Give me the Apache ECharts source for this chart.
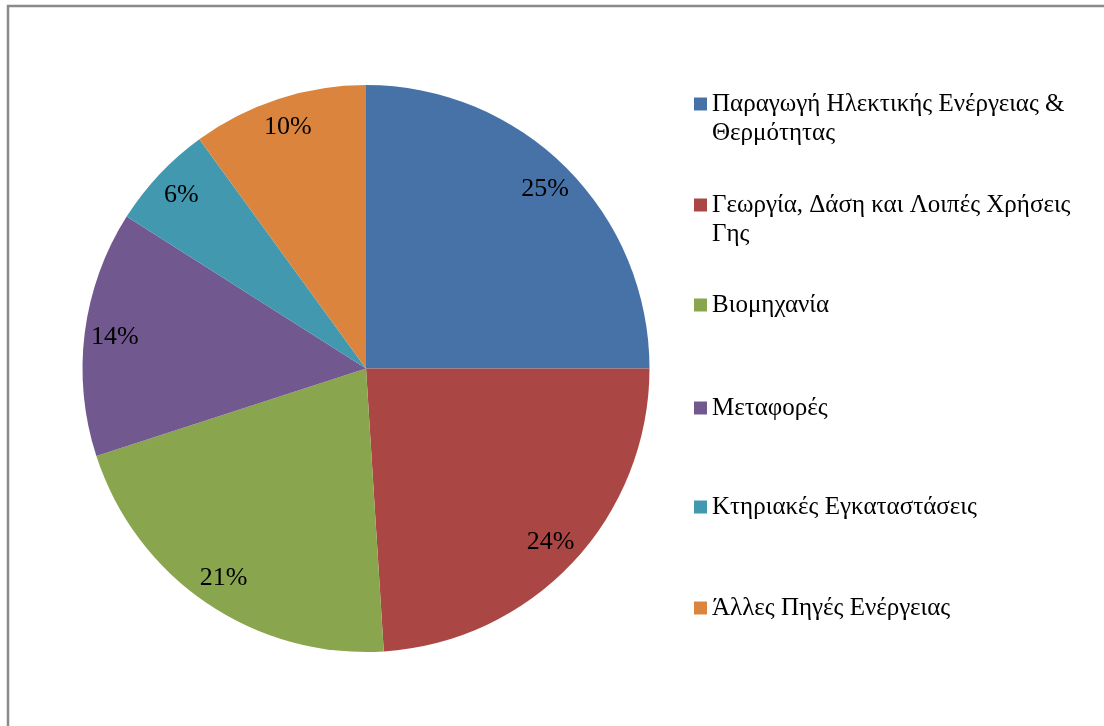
<!DOCTYPE html>
<html>
<head>
<meta charset="utf-8">
<script src="https://cdn.jsdelivr.net/npm/echarts@6/dist/echarts.min.js"></script>
<style>
  html, body { margin: 0; padding: 0; background: #fff; }
  #main { width: 1104px; height: 726px; }
</style>
</head>
<body>
<div id="main"></div>
<script>
// κατηγορίες και ποσοστά
const categories = [
  'Παραγωγή Ηλεκτικής Ενέργειας &\nΘερμότητας',
  'Γεωργία, Δάση και Λοιπές Χρήσεις\nΓης',
  'Βιομηχανία',
  'Μεταφορές',
  'Κτηριακές Εγκαταστάσεις',
  'Άλλες Πηγές Ενέργειας'
]
const values = [25, 24, 21, 14, 6, 10]
const colors = ['#4672A8', '#AA4744', '#89A54E', '#71588F', '#4198AF', '#DB843D']

const chart = echarts.init(document.getElementById('main'))

const pieData = categories.map((name, i) => ({
  name: name,
  value: values[i],
  itemStyle: { color: colors[i] }
}))

// κέντρο εικονιδίου κάθε στοιχείου του υπομνήματος (y)
const legendCenters = [104, 205, 305, 408, 507, 608]
const legends = categories.map((name, i) => {
  const twoLines = name.indexOf('\n') >= 0
  return {
    left: 694,
    top: legendCenters[i] - (twoLines ? 43.5 : 14.5),
    padding: 0,
    orient: 'vertical',
    selectedMode: false,
    icon: 'rect',
    itemWidth: 13,
    itemHeight: 13,
    data: [name],
    // κενή πρώτη γραμμή ώστε η πρώτη γραμμή κειμένου να ευθυγραμμίζεται με το εικονίδιο
    formatter: n => (twoLines ? '\n' + n : n),
    textStyle: {
      fontFamily: 'Liberation Serif',
      fontSize: 25,
      lineHeight: 29,
      color: '#000'
    }
  }
})

const option = {
  animation: false,
  backgroundColor: '#fff',
  legend: legends,
  graphic: [
    {
      type: 'rect',
      shape: { x: 8, y: 6, width: 1200, height: 800 },
      style: { fill: 'none', stroke: '#8a8a8a', lineWidth: 2.5 },
      silent: true
    }
  ],
  series: [
    {
      type: 'pie',
      center: [366, 368.5],
      radius: [0, 283.5],
      startAngle: 90,
      clockwise: true,
      silent: true,
      label: { show: false },
      labelLine: { show: false },
      itemStyle: { borderWidth: 0 },
      emphasis: { disabled: true },
      data: pieData
    },
    {
      // μόνο για τις ετικέτες ποσοστών
      type: 'pie',
      center: [366, 368.5],
      radius: [217, 283.5],
      startAngle: 90,
      clockwise: true,
      silent: true,
      legendHoverLink: false,
      itemStyle: { color: 'rgba(0,0,0,0)', borderWidth: 0 },
      emphasis: { disabled: true },
      label: {
        show: true,
        position: 'inside',
        formatter: '{c}%',
        fontFamily: 'Liberation Serif',
        fontSize: 26,
        color: '#000'
      },
      labelLine: { show: false },
      data: categories.map((name, i) => ({ name: name, value: values[i], itemStyle: { color: 'rgba(0,0,0,0)' } }))
    }
  ]
}

chart.setOption(option)
</script>
</body>
</html>
